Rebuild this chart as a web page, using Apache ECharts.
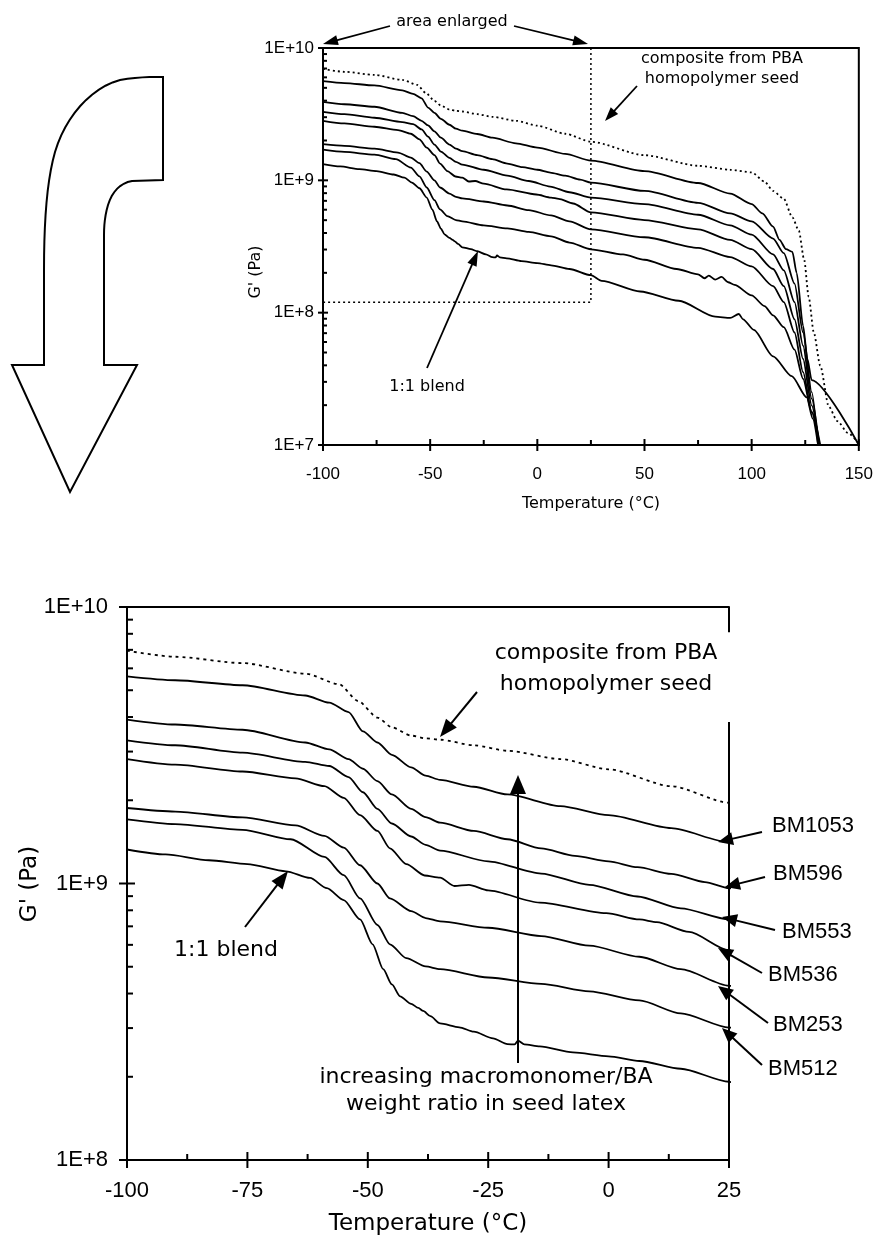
<!DOCTYPE html>
<html>
<head>
<meta charset="utf-8">
<style>
html,body{margin:0;padding:0;background:#fff;}
#chart{width:876px;height:1243px;}
</style>
<script src="https://cdn.jsdelivr.net/npm/echarts@6/dist/echarts.min.js"></script>
</head>
<body>
<div id="chart"></div>
<script>
// ---- Data (temperature in °C, log10 of G' in Pa) ----
const T_composite = [-100,-90,-76,-63,-56,-52,-48,-45,-41,-38,-35,-28,-21,-10,0,13,25,50,75,90,100,106,110,115,119,122,124.5,126.6,129,132,136,140,145,150];
const logG_composite = [9.842,9.82,9.797,9.759,9.721,9.66,9.60,9.565,9.535,9.525,9.52,9.50,9.48,9.45,9.413,9.352,9.292,9.19,9.11,9.08,9.06,8.99,8.92,8.86,8.72,8.62,8.40,8.12,7.85,7.60,7.29,7.18,7.09,7.01];

const T_BM1053 = [-100,-90,-76,-63,-58,-54,-51,-48,-45,-41,-38,-35,-28,-21,-10,0,13,25,50,75,90,100,105,110,113,116,119,121,124,126,128,150];
const logG_BM1053 = [9.749,9.735,9.717,9.68,9.654,9.62,9.55,9.51,9.465,9.42,9.39,9.375,9.35,9.322,9.28,9.247,9.20,9.149,9.07,8.98,8.90,8.82,8.75,8.65,8.55,8.48,8.46,8.30,7.90,7.65,7.49,7.00];

const T_BM596 = [-100,-90,-76,-63,-58,-54,-51,-48,-45,-41,-38,-35,-28,-21,-14,-7,0,6,13,20,25,50,75,90,100,110,115,120,124,128,131];
const logG_BM596 = [9.593,9.575,9.556,9.51,9.485,9.45,9.415,9.37,9.322,9.27,9.24,9.22,9.19,9.16,9.127,9.10,9.08,9.059,9.035,9.005,8.983,8.92,8.83,8.75,8.69,8.56,8.45,8.22,7.85,7.40,7.00];

const T_BM553 = [-100,-90,-76,-63,-58,-54,-51,-48,-45,-41,-38,-35,-25,-14,-4,6,15,25,50,75,90,100,110,115,120,124,128,131.5];
const logG_BM553 = [9.518,9.50,9.473,9.44,9.425,9.385,9.33,9.27,9.217,9.17,9.14,9.119,9.08,9.036,8.995,8.953,8.91,8.870,8.82,8.74,8.66,8.59,8.44,8.32,8.08,7.75,7.35,7.00];

const T_BM536 = [-100,-90,-76,-65,-59,-55,-51.6,-48,-45.4,-42,-38.2,-35,-32,-29,-25,-14.3,-0.5,6.4,10,16.7,25,50,75,90,100,110,115,120,124,128,131.5];
const logG_BM536 = [9.450,9.43,9.405,9.38,9.352,9.31,9.247,9.19,9.127,9.07,9.029,9.021,8.991,8.995,8.975,8.931,8.893,8.870,8.86,8.825,8.758,8.70,8.63,8.55,8.48,8.33,8.20,7.95,7.65,7.30,7.00];

const T_BM253 = [-100,-90,-76,-65,-59,-55,-51.6,-48,-45.4,-41,-38,-35,-25,-14,-4,6.4,15,25,50,75,90,100,110,115,120,124,128,131.5];
const logG_BM253 = [9.273,9.26,9.239,9.21,9.172,9.13,9.066,9.00,8.946,8.90,8.875,8.863,8.84,8.81,8.775,8.735,8.69,8.630,8.57,8.49,8.42,8.35,8.20,8.08,7.85,7.55,7.25,7.00];

const T_BM512 = [-100,-90,-76,-66,-59,-55,-51.6,-48,-45.4,-42,-38,-35,-25,-14,-4,6.4,15,25,40,50,65,75,78,80,83,86,89,92,100,106,110,115,120,124,128,132];
const logG_BM512 = [9.232,9.215,9.194,9.16,9.096,9.03,8.946,8.85,8.78,8.73,8.70,8.69,8.66,8.637,8.61,8.577,8.53,8.479,8.44,8.40,8.33,8.29,8.26,8.28,8.25,8.27,8.23,8.21,8.13,8.05,7.98,7.89,7.72,7.50,7.25,7.00];

const T_blend = [-100,-92,-83,-75,-67,-62,-58.5,-55,-51.6,-49,-46.8,-45,-43.3,-41,-39.5,-38.5,-37,-35,-31,-28,-24,-21,-19.5,-18.8,-17.5,-14.3,-7.4,0,6.4,15,25,30,48,66,83,90,94,96,101,110,118.7,125.7,128.5,131];
const logG_blend = [9.123,9.105,9.084,9.07,9.044,9.02,8.983,8.94,8.870,8.78,8.690,8.635,8.592,8.565,8.55,8.539,8.52,8.494,8.48,8.464,8.44,8.419,8.418,8.432,8.418,8.411,8.389,8.375,8.358,8.33,8.283,8.24,8.16,8.09,7.97,7.96,7.99,7.95,7.87,7.67,7.52,7.36,7.20,7.00];

// enlarged-area outline on the overview chart (°C, Pa)
const enlargedT = [25, 25, -100];
const enlargedG = [1e10, 1.2e8, 1.2e8];

// axis ticks
const xTicksTop = [-100,-50,0,50,100,150];
const xMinorTop = [-75,-25,25,75,125];
const xTicksBottom = [-100,-75,-50,-25,0,25];
const xMinorBottom = [-87.5,-62.5,-37.5,-12.5,12.5];
const yDecadesTop = [1e7,1e8,1e9,1e10];
const yDecadesBottom = [1e8,1e9,1e10];
const minorMultipliers = [2,3,4,5,6,7,8,9];

// ---- Build ----
const FONT = '"Liberation Sans", Arial, Helvetica, sans-serif';
const WIDE = '"DejaVu Sans", "Liberation Sans", Arial, sans-serif';
const chart = echarts.init(document.getElementById('chart'), null, {renderer:'canvas'});

const curves = [
  {name:'composite from PBA homopolymer seed', T:T_composite, L:logG_composite, dotted:true},
  {name:'BM1053', T:T_BM1053, L:logG_BM1053},
  {name:'BM596', T:T_BM596, L:logG_BM596},
  {name:'BM553', T:T_BM553, L:logG_BM553},
  {name:'BM536', T:T_BM536, L:logG_BM536},
  {name:'BM253', T:T_BM253, L:logG_BM253},
  {name:'BM512', T:T_BM512, L:logG_BM512},
  {name:'1:1 blend', T:T_blend, L:logG_blend}
];
function pts(c){ return c.T.map((t,i)=>[t, Math.pow(10, c.L[i])]); }

const series = [];
curves.forEach(c=>{
  [0,1].forEach(g=>{
    series.push({
      type:'line', name:c.name, xAxisIndex:g, yAxisIndex:g,
      data:pts(c), symbol:'none', smooth:0.25, smoothMonotone:'x',
      clip:true, silent:true,
      lineStyle:{color:'#000', width: g===0?1.8:1.8, type: c.dotted ? (g===0?[2,3]:[3,4]) : 'solid'}
    });
  });
});
// enlarged area outline
series.push({type:'line', xAxisIndex:0, yAxisIndex:0, silent:true, symbol:'none', clip:false,
  data: enlargedT.map((t,i)=>[t, enlargedG[i]]),
  lineStyle:{color:'#000', width:1.5, type:[2,3]}});
// right border (with gap) of the enlarged chart
series.push({type:'line', xAxisIndex:1, yAxisIndex:1, silent:true, symbol:'none', clip:false,
  data: [[25,1e10],[25,8.1e9]], lineStyle:{color:'#000', width:2}});
series.push({type:'line', xAxisIndex:1, yAxisIndex:1, silent:true, symbol:'none', clip:false,
  data: [[25,3.84e9],[25,1e8]], lineStyle:{color:'#000', width:2}});

// tick marks via custom series
function tickSeries(g, data, maj, minLen, xAxisTick){
  return {type:'custom', xAxisIndex:g, yAxisIndex:g, silent:true, clip:false, z:5,
    data:data,
    renderItem:function(params, api){
      const p = api.coord([api.value(0), api.value(1)]);
      const major = api.value(2) === 1;
      let shape;
      if (xAxisTick) {
        shape = major ? {x1:p[0], y1:p[1]-maj, x2:p[0], y2:p[1]+maj} : {x1:p[0], y1:p[1], x2:p[0], y2:p[1]-minLen};
      } else {
        shape = major ? {x1:p[0]-maj, y1:p[1], x2:p[0]+maj, y2:p[1]} : {x1:p[0], y1:p[1], x2:p[0]+minLen, y2:p[1]};
      }
      return {type:'line', shape:shape, style:{stroke:'#000', lineWidth:2}};
    }};
}
function yTickData(xmin, decades){
  const d = [];
  decades.forEach(v=>{ d.push([xmin, v, 1]); });
  decades.slice(0,-1).forEach(v=>{ minorMultipliers.forEach(m=>d.push([xmin, v*m, 0])); });
  return d;
}
series.push(tickSeries(0, yTickData(-100, yDecadesTop), 5, 4, false));
series.push(tickSeries(1, yTickData(-100, yDecadesBottom), 8, 6, false));
series.push(tickSeries(0, xTicksTop.map(v=>[v,1e7,1]).concat(xMinorTop.map(v=>[v,1e7,0])), 6, 5, true));
series.push(tickSeries(1, xTicksBottom.map(v=>[v,1e8,1]).concat(xMinorBottom.map(v=>[v,1e8,0])), 8, 6, true));

const logFmt = v => '1E+' + Math.round(Math.log10(v));

// ---- annotation graphics ----
const G = [];
function txt(x,y,text,size,align,family,rot){
  G.push({type:'text', x:x, y:y, rotation:rot||0, silent:true, style:{text:text, x:0, y:0, font: size+'px '+(family||FONT), fill:'#000',
    align:align||'center', verticalAlign:'middle', textAlign:align||'center', textVerticalAlign:'middle'}});
}
function arrow(x1,y1,x2,y2,hl,hw,lw){
  const dx=x2-x1, dy=y2-y1, L=Math.hypot(dx,dy), ux=dx/L, uy=dy/L;
  const bx=x2-ux*hl, by=y2-uy*hl, px=-uy, py=ux;
  G.push({type:'line', silent:true, shape:{x1:x1,y1:y1,x2:bx+ux*2,y2:by+uy*2}, style:{stroke:'#000', lineWidth:lw}});
  G.push({type:'polygon', silent:true, shape:{points:[[x2,y2],[bx+px*hw/2,by+py*hw/2],[bx-px*hw/2,by-py*hw/2]]}, style:{fill:'#000'}});
}
// big bent arrow outline on the left (decoration)
function bez(p0,p1,p2,p3,n){
  const out=[];
  for(let i=1;i<=n;i++){const t=i/n, u=1-t;
    out.push([u*u*u*p0[0]+3*u*u*t*p1[0]+3*u*t*t*p2[0]+t*t*t*p3[0], u*u*u*p0[1]+3*u*u*t*p1[1]+3*u*t*t*p2[1]+t*t*t*p3[1]]);}
  return out;
}
let outline = [[163,77],[163,180],[132,181]];
outline = outline.concat(bez([132,181],[120,183],[112,192],[108,205],8));
outline = outline.concat(bez([108,205],[105,215],[104,225],[104,235],6));
outline = outline.concat([[104,365],[137,365],[70,492],[12,365],[44,365],[44,270]]);
outline = outline.concat(bez([44,270],[44,220],[47,180],[55,152],10));
outline = outline.concat(bez([55,152],[65,118],[90,88],[120,80],12));
outline = outline.concat(bez([120,80],[135,77],[150,77],[163,77],6));
G.push({type:'polygon', silent:true, shape:{points:outline}, style:{fill:'#fff', stroke:'#000', lineWidth:2, lineJoin:'miter'}});

// top chart annotations
txt(452, 22, 'area enlarged', 16, 'center', WIDE);
arrow(390, 26, 323, 44, 15, 10, 1.8);
arrow(514, 26, 588, 44, 15, 10, 1.8);
txt(722, 59, 'composite from PBA', 16, 'center', WIDE);
txt(722, 79, 'homopolymer seed', 16, 'center', WIDE);
arrow(637, 86, 605, 121, 14, 10, 1.8);
txt(427, 387, '1:1 blend', 16, 'center', WIDE);
arrow(427, 368, 478, 251, 15, 10, 1.8);
// top axis titles
txt(591, 504, 'Temperature (°C)', 16, 'center', WIDE);
txt(256, 272, "G' (Pa)", 16, 'center', WIDE, Math.PI/2);

// bottom chart annotations
txt(606, 653, 'composite from PBA', 22, 'center', WIDE);
txt(606, 684, 'homopolymer seed', 22, 'center', WIDE);
arrow(477, 692, 440, 737, 18, 14, 2);
txt(226, 950, '1:1 blend', 22, 'center', WIDE);
arrow(245, 927, 288, 871, 18, 14, 2);
arrow(518, 1063, 518, 775, 19, 16, 2);
txt(486, 1077, 'increasing macromonomer/BA', 22, 'center', WIDE);
txt(486, 1104, 'weight ratio in seed latex', 22, 'center', WIDE);
const bmLabels = [
  ['BM1053', 772, 826, 762, 832, 718, 842],
  ['BM596', 773, 874, 765, 877, 725, 887],
  ['BM553', 782, 932, 775, 930, 722, 917],
  ['BM536', 768, 975, 762, 973, 718, 948],
  ['BM253', 773, 1025, 768, 1023, 718, 986],
  ['BM512', 768, 1069, 762, 1065, 722, 1028]
];
bmLabels.forEach(b=>{ txt(b[1], b[2], b[0], 22, 'left'); arrow(b[3], b[4], b[5], b[6], 15, 13, 2); });
txt(428, 1224, 'Temperature (°C)', 23, 'center', WIDE);
txt(30, 884, "G' (Pa)", 23, 'center', WIDE, Math.PI/2);

const axisLine = {show:true, onZero:false, lineStyle:{color:'#000', width:2}};
const option = {
  animation:false,
  backgroundColor:'#fff',
  textStyle:{fontFamily:FONT, color:'#000'},
  grid:[
    {left:323, right:16, top:48, bottom:798, show:true, borderColor:'#000', borderWidth:2, backgroundColor:'transparent'},
    {left:127, right:147, top:607, bottom:83}
  ],
  xAxis:[
    {gridIndex:0, type:'value', min:-100, max:150, interval:50, axisLine:axisLine, axisTick:{show:false}, splitLine:{show:false},
     axisLabel:{margin:21, fontSize:17, color:'#000', fontFamily:FONT}},
    {gridIndex:1, type:'value', min:-100, max:25, interval:25, axisLine:axisLine, axisTick:{show:false}, splitLine:{show:false},
     axisLabel:{margin:20, fontSize:22, color:'#000', fontFamily:FONT}},
    {gridIndex:1, type:'value', position:'top', min:-100, max:25, axisLine:axisLine, axisTick:{show:false}, splitLine:{show:false}, axisLabel:{show:false}}
  ],
  yAxis:[
    {gridIndex:0, type:'log', logBase:10, min:1e7, max:1e10, axisLine:axisLine, axisTick:{show:false}, splitLine:{show:false},
     axisLabel:{margin:9, fontSize:17, color:'#000', fontFamily:FONT, formatter:logFmt}},
    {gridIndex:1, type:'log', logBase:10, min:1e8, max:1e10, axisLine:axisLine, axisTick:{show:false}, splitLine:{show:false},
     axisLabel:{margin:19, fontSize:22, color:'#000', fontFamily:FONT, formatter:logFmt}}
  ],
  series:series,
  graphic:G
};
chart.setOption(option);
</script>
</body>
</html>
